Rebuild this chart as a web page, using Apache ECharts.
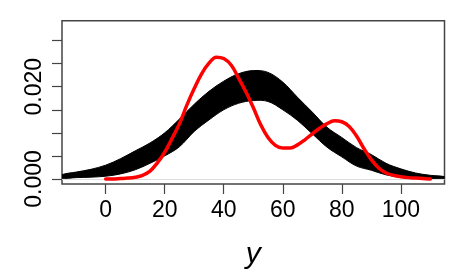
<!DOCTYPE html>
<html>
<head>
<meta charset="utf-8">
<script src="https://cdn.jsdelivr.net/npm/echarts@6/dist/echarts.min.js"></script>
<style>html,body{margin:0;padding:0;background:#fff}#c{width:464px;height:275px}</style>
</head>
<body>
<div id="c"></div>
<script>
// ---- data ----
var bandX     = [-15,-10,-5,0,5,10,15,20,25,30,35,40,45,50,55,60,65,70,75,80,85,90,95,100,105,110,115];
var bandUpper = [0.0009,0.0015,0.0021,0.0030,0.0044,0.0061,0.0078,0.0100,0.0130,0.0162,0.0190,0.0212,0.0228,0.0235,0.0231,0.0210,0.0177,0.0145,0.0112,0.0090,0.0068,0.0053,0.0034,0.0022,0.0013,0.0008,0.0005];
var bandLower = [0.0002,0.0003,0.0004,0.0006,0.0011,0.0020,0.0034,0.0050,0.0070,0.0103,0.0128,0.0150,0.0164,0.0170,0.0168,0.0150,0.0127,0.0098,0.0069,0.0048,0.0028,0.0019,0.0009,0.0004,0.0002,0.0001,0.0001];
var obsX = [0,2.5,5,7.5,10,12.5,15,17.5,20,22.5,25,27.5,30,32.5,35,37.5,40,42.5,45,47.5,50,52.5,55,57.5,60,62.5,65,67.5,70,72.5,75,77.5,80,82.5,85,87.5,90,92.5,95,97.5,100,102.5,105,107.5,110];
var obsY = [0.0000,0.0000,0.0001,0.0002,0.0004,0.0008,0.0017,0.0035,0.0058,0.0088,0.0120,0.0160,0.0196,0.0228,0.0251,0.0264,0.0261,0.0247,0.0219,0.0189,0.0155,0.0118,0.0090,0.0073,0.0067,0.0067,0.0074,0.0085,0.0098,0.0110,0.0120,0.0126,0.0124,0.0114,0.0093,0.0066,0.0042,0.0024,0.0013,0.0008,0.0005,0.0003,0.0002,0.0001,0.0000];
var xTicks = [0,20,40,60,80,100];
var yTicks = [0,0.005,0.010,0.015,0.020,0.025,0.030];
var yLabels = [0,0.020];
var xTitle = 'y';

function pairs(xs, ys){ return xs.map(function(x,i){ return [x, ys[i]]; }); }

var font = 'Liberation Sans';
var chart = echarts.init(document.getElementById('c'), null, {renderer:'canvas'});
chart.setOption({
  animation:false,
  grid:{left:62, right:19.5, top:20.7, bottom:90.7, show:true, borderColor:'#444', borderWidth:1.5, backgroundColor:'transparent'},
  xAxis:{type:'value', min:-14.8, max:114.8,
    axisLine:{show:false, onZero:false},
    splitLine:{show:false},
    axisTick:{show:true, length:10, lineStyle:{color:'#444', width:1.2}, customValues:xTicks},
    axisLabel:{show:true, customValues:xTicks, margin:15, color:'#000', fontFamily:font, fontSize:23},
    name:xTitle, nameLocation:'middle', nameGap:56,
    nameTextStyle:{fontFamily:font, fontSize:30, fontStyle:'italic', color:'#000'}
  },
  yAxis:{type:'value', min:-0.00108, max:0.0343,
    axisLine:{show:false, onZero:false},
    splitLine:{show:false},
    axisTick:{show:true, length:10, lineStyle:{color:'#444', width:1.2}, customValues:yTicks},
    axisLabel:{show:true, customValues:yLabels, rotate:90, margin:16, color:'#000', fontFamily:font, fontSize:23,
      formatter:function(v){ return Number(v).toFixed(3); }}
  },
  series:[
    {type:'custom', data:[0], z:2, silent:true,
      markLine:{silent:true, symbol:'none', label:{show:false}, lineStyle:{color:'#dcdcdc', width:1, type:'solid'}, data:[{yAxis:0}]},
      renderItem:function(params, api){
        var pts = [];
        for (var i=0;i<bandX.length;i++) pts.push(api.coord([bandX[i], bandUpper[i]]));
        for (var j=bandX.length-1;j>=0;j--) pts.push(api.coord([bandX[j], bandLower[j]]));
        var cs = params.coordSys;
        return {type:'polygon', shape:{points:pts, smooth:0.35}, style:{fill:'#000', stroke:'#000', lineWidth:1},
          clipPath:{type:'rect', shape:{x:cs.x, y:cs.y, width:cs.width, height:cs.height}}};
      }},
    {type:'line', data:pairs(obsX, obsY), smooth:0.4, symbol:'none',
      lineStyle:{color:'#ff0000', width:3.5, cap:'round', join:'round'}, z:5}
  ]
});
</script>
</body>
</html>
